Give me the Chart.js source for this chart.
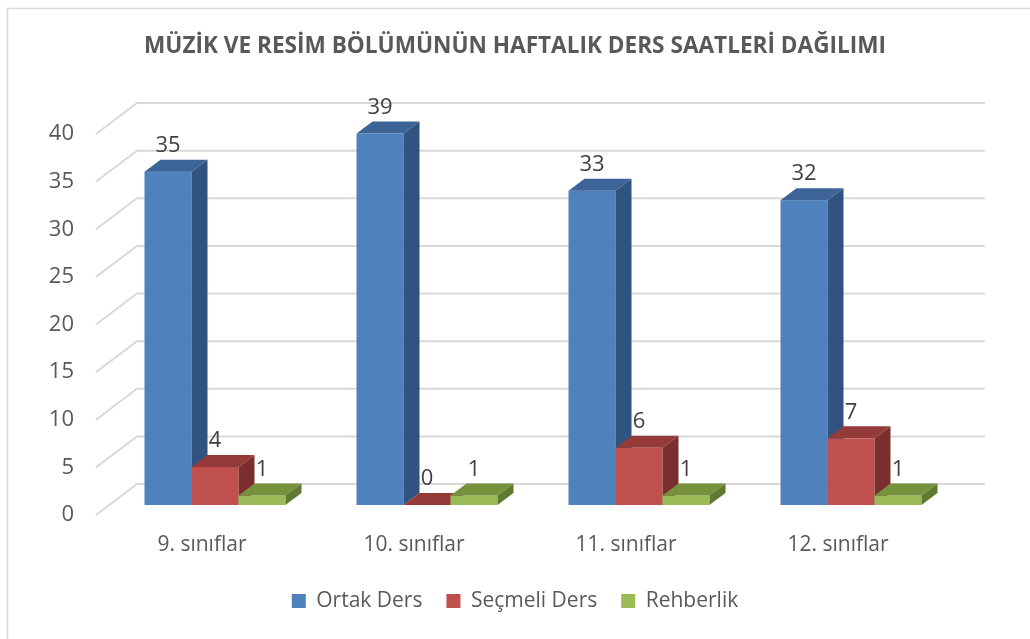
<!DOCTYPE html>
<html>
<head>
<meta charset="utf-8">
<script src="https://cdn.jsdelivr.net/npm/chart.js@4.4.1/dist/chart.umd.min.js"></script>
<style>
    html, body { margin: 0; padding: 0; background: #ffffff; }
    #wrap { width: 1030px; height: 639px; }
</style>
</head>
<body>
<div id="wrap"><canvas id="myChart"></canvas></div>
<script>
const categories = ['9. sınıflar', '10. sınıflar', '11. sınıflar', '12. sınıflar'];
const ortakDers = [35, 39, 33, 32];
const secmeliDers = [4, 0, 6, 7];
const rehberlik = [1, 1, 1, 1];
const seriesNames = ['Ortak Ders', 'Seçmeli Ders', 'Rehberlik'];

// face colours: front, top, side
const faces = [
    ['#4f81bd', '#3c6497', '#31537f'],
    ['#c0504d', '#943a38', '#7a2e2d'],
    ['#9bbb59', '#76923c', '#5f7a30'],
];

const FRONT = { x: 13, y: -10 };  // bar front face, from the axis plane
const DEPTH = { x: 16, y: -12 };  // bar depth
const WALL = { x: 41, y: -31 };   // back wall

const FONT = 'Open Sans';
const GREY = '#595959';

const bars3d = {
    id: 'bars3d',
    beforeDraw(chart) {
        const c = chart.ctx;
        c.save();
        c.strokeStyle = '#d9d9d9';
        c.lineWidth = 1.5;
        c.strokeRect(7.5, 8.5, 1100, 700);
        c.restore();
    },
    beforeDatasetsDraw(chart) {
        const c = chart.ctx;
        const y = chart.scales.y;
        const a = chart.chartArea;
        c.save();
        c.strokeStyle = '#d9d9d9';
        c.lineWidth = 2;
        y.ticks.forEach(t => {
            const py = y.getPixelForValue(t.value);
            c.beginPath();
            c.moveTo(a.left, py);
            c.lineTo(a.left + WALL.x, py + WALL.y);
            c.lineTo(a.right + WALL.x, py + WALL.y);
            c.stroke();
        });
        c.restore();
    },
    beforeDatasetDraw() {
        return false;
    },
    afterDatasetsDraw(chart) {
        const c = chart.ctx;
        const metas = chart.data.datasets.map((d, i) => chart.getDatasetMeta(i));
        c.save();
        categories.forEach((cat, j) => {
            metas.forEach((meta, i) => {
                const el = meta.data[j];
                const x0 = el.x - el.width / 2 + FRONT.x;
                const x1 = el.x + el.width / 2 + FRONT.x;
                const yt = el.y + FRONT.y;
                const yb = el.base + FRONT.y;
                const f = faces[i];
                c.fillStyle = f[0];
                c.fillRect(x0, yt, x1 - x0, yb - yt);
                c.fillStyle = f[1];
                c.beginPath();
                c.moveTo(x0, yt);
                c.lineTo(x1, yt);
                c.lineTo(x1 + DEPTH.x, yt + DEPTH.y);
                c.lineTo(x0 + DEPTH.x, yt + DEPTH.y);
                c.closePath();
                c.fill();
                c.fillStyle = f[2];
                c.beginPath();
                c.moveTo(x1, yt);
                c.lineTo(x1 + DEPTH.x, yt + DEPTH.y);
                c.lineTo(x1 + DEPTH.x, yb + DEPTH.y);
                c.lineTo(x1, yb);
                c.closePath();
                c.fill();
            });
        });
        c.fillStyle = '#404040';
        c.font = '22px "' + FONT + '"';
        c.textAlign = 'center';
        c.textBaseline = 'middle';
        metas.forEach((meta, i) => {
            meta.data.forEach((el, j) => {
                const v = chart.data.datasets[i].data[j];
                c.fillText(String(v), el.x + FRONT.x, el.y + FRONT.y + DEPTH.y - 14);
            });
        });
        c.restore();
    }
};

new Chart(document.getElementById('myChart'), {
    type: 'bar',
    data: {
        labels: categories,
        datasets: [
            { label: seriesNames[0], data: ortakDers, backgroundColor: faces[0][0] },
            { label: seriesNames[1], data: secmeliDers, backgroundColor: faces[1][0] },
            { label: seriesNames[2], data: rehberlik, backgroundColor: faces[2][0] },
        ]
    },
    plugins: [bars3d],
    options: {
        responsive: true,
        maintainAspectRatio: false,
        animation: false,
        categoryPercentage: 0.665,
        barPercentage: 1,
        layout: {
            padding: { top: 0, left: 0, right: 0, bottom: 17.5 }
        },
        plugins: {
            title: {
                display: true,
                text: 'MÜZİK VE RESİM BÖLÜMÜNÜN HAFTALIK DERS SAATLERİ DAĞILIMI',
                color: GREY,
                font: { family: FONT, size: 22.6, weight: 'bold' },
                padding: { top: 33.5, bottom: 73.4 }
            },
            legend: {
                position: 'bottom',
                labels: {
                    boxWidth: 14,
                    boxHeight: 14,
                    padding: 24,
                    color: GREY,
                    font: { family: FONT, size: 21 }
                }
            },
            tooltip: { enabled: false }
        },
        scales: {
            x: {
                grid: { display: false, drawTicks: false },
                border: { display: false },
                ticks: {
                    color: GREY,
                    font: { family: FONT, size: 21 },
                    padding: 17
                },
                afterFit(s) { s.height = 51.5; }
            },
            y: {
                min: 0,
                max: 40,
                ticks: {
                    stepSize: 5,
                    color: GREY,
                    font: { family: FONT, size: 22 },
                    padding: 22
                },
                grid: { display: false, drawTicks: false },
                border: { display: false },
                afterFit(s) { s.width = 96; }
            },
            yRight: {
                position: 'right',
                ticks: { display: false },
                grid: { display: false, drawTicks: false },
                border: { display: false },
                afterFit(s) { s.width = 86; }
            }
        }
    }
});
</script>
</body>
</html>
